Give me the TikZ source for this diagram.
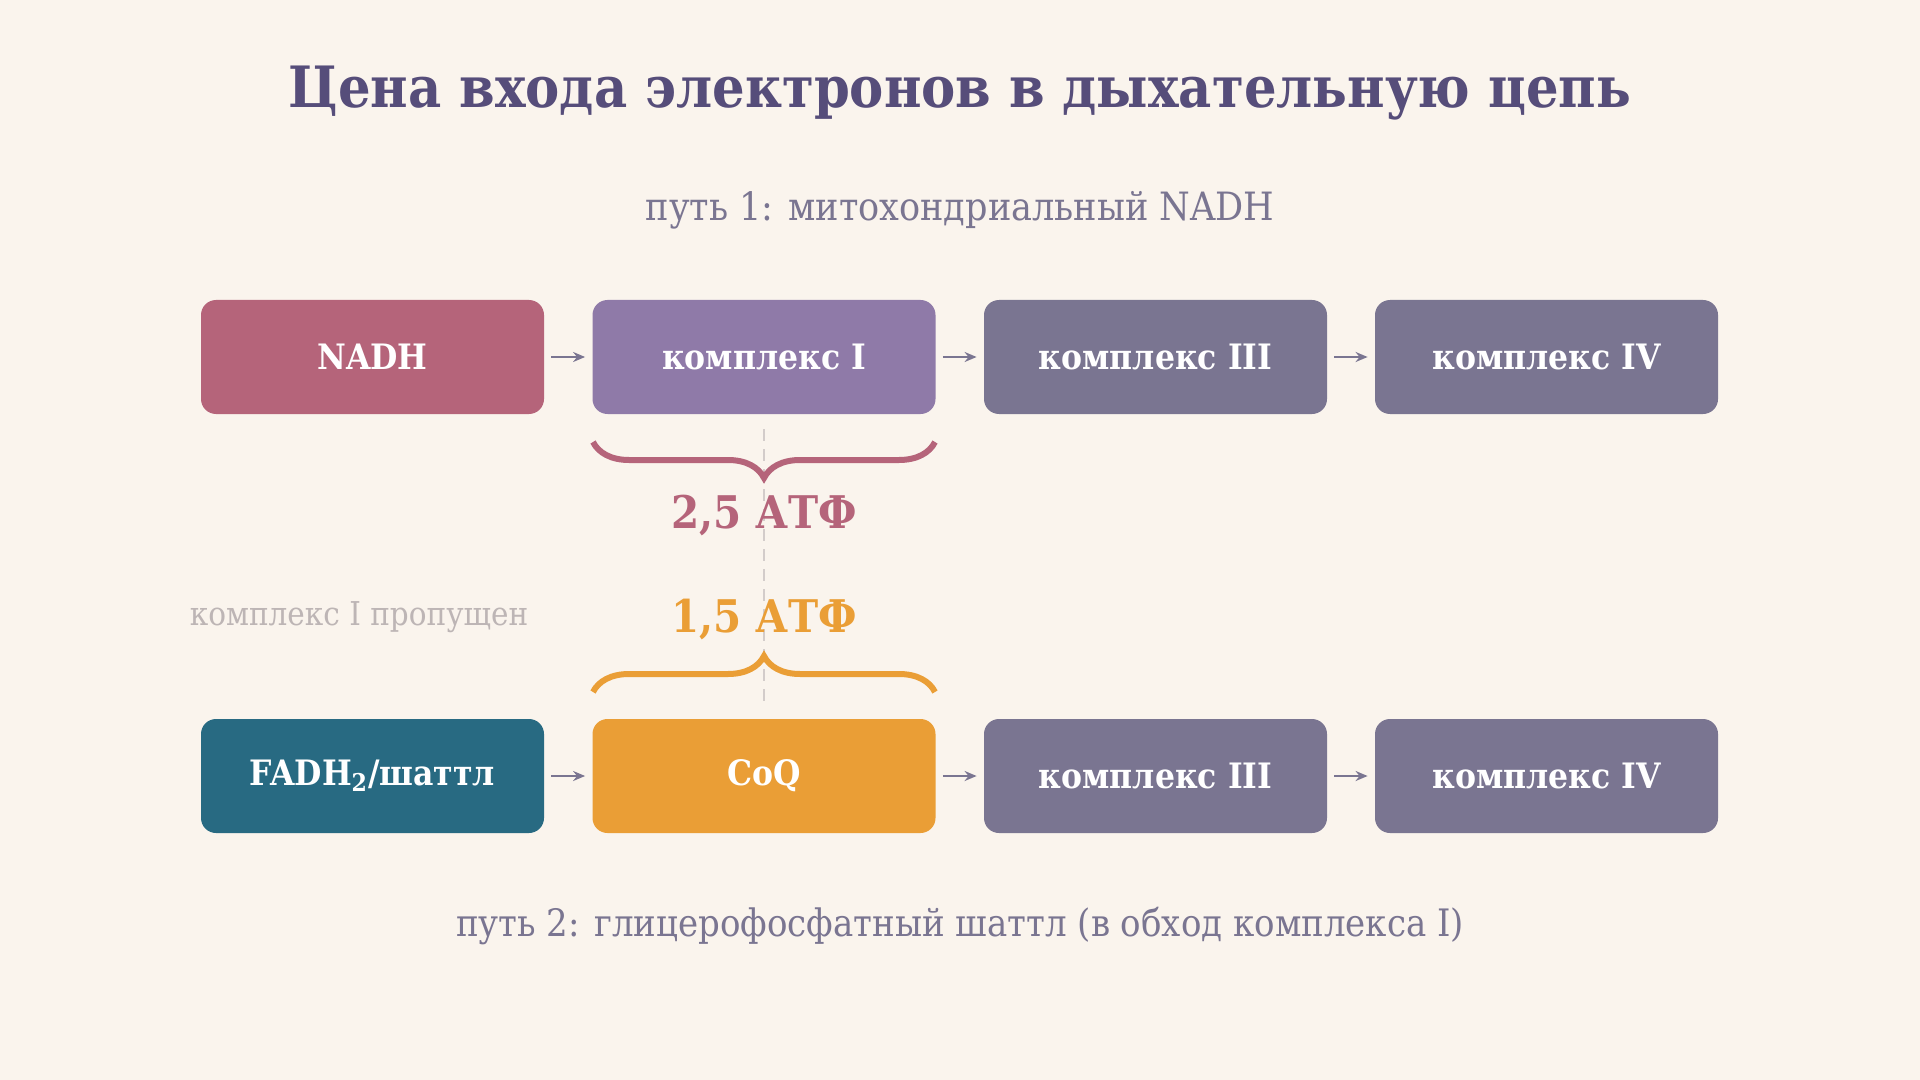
\documentclass[tikz,border=0pt]{standalone}
\usepackage{fontspec}
\setmainfont{DejaVu Serif Condensed}
\usetikzlibrary{arrows.meta,decorations.pathreplacing}
\definecolor{bg}{HTML}{FAF4ED}
\definecolor{titlec}{HTML}{564D7A}
\definecolor{nadhc}{HTML}{B5647A}
\definecolor{cIc}{HTML}{8F7AA8}
\definecolor{cIIIc}{HTML}{7A7591}
\definecolor{fadhc}{HTML}{286A82}
\definecolor{coqc}{HTML}{EA9E36}
\definecolor{grayc}{HTML}{BDB5B5}
\definecolor{dashc}{HTML}{D3CCCA}
\tikzset{
  boxnode/.style={rectangle, rounded corners=7.5pt, minimum width=171.5pt, minimum height=57pt, inner sep=0pt, text=white, font=\fontsize{17.5}{20}\selectfont\bfseries},
  flowarrow/.style={draw=cIIIc, line width=1pt, shorten <=3.5pt, shorten >=3.5pt, -{Stealth[length=6pt,width=5pt]}},
  bracenode/.style={decorate, line width=3pt, decoration={brace, amplitude=18pt}},
}
\begin{document}
\begin{tikzpicture}[x=0.5pt,y=-0.5pt]
\fill[bg] (0,0) rectangle (1920,1080);
\useasboundingbox (0,0) rectangle (1920,1080);
\node[text=titlec, font=\fontsize{28.5}{32}\selectfont\bfseries] (title) at (960,93) {Цена входа электронов в дыхательную цепь};
\node[text=cIIIc, font=\fontsize{19.5}{22}\selectfont] (sub1) at (960,210) {путь 1: митохондриальный NADH};
\node[text=cIIIc, font=\fontsize{18.9}{22}\selectfont] (sub2) at (960,926) {путь 2: глицерофосфатный шаттл (в обход комплекса I)};
% dashed guide
\coordinate (dtop) at (764,429);
\coordinate (dbot) at (764,705);
\draw[dashc, line width=1pt, dash pattern=on 6pt off 4pt] (dtop) -- (dbot);
% row 1
\node[boxnode, fill=nadhc] (nadh) at (372.5,357) {NADH};
\node[boxnode, fill=cIc] (c1) at (764,357) {комплекс I};
\node[boxnode, fill=cIIIc] (c3a) at (1155.5,357) {комплекс III};
\node[boxnode, fill=cIIIc] (c4a) at (1546.5,357) {комплекс IV};
\draw[flowarrow] (nadh) -- (c1);
\draw[flowarrow] (c1) -- (c3a);
\draw[flowarrow] (c3a) -- (c4a);
% row 2
\node[boxnode, fill=fadhc] (fadh) at (372.5,776) {FADH\textsubscript{2}/шаттл};
\node[boxnode, fill=coqc] (coq) at (764,776) {CoQ};
\node[boxnode, fill=cIIIc] (c3b) at (1155.5,776) {комплекс III};
\node[boxnode, fill=cIIIc] (c4b) at (1546.5,776) {комплекс IV};
\draw[flowarrow] (fadh) -- (coq);
\draw[flowarrow] (coq) -- (c3b);
\draw[flowarrow] (c3b) -- (c4b);
% braces
\coordinate (b1l) at (593,442);
\coordinate (b1r) at (935,442);
\coordinate (b2l) at (593,692);
\coordinate (b2r) at (935,692);
\draw[nadhc, bracenode] (b1r) -- (b1l);
\draw[coqc, bracenode] (b2l) -- (b2r);
\node[text=nadhc, font=\fontsize{22.5}{26}\selectfont\bfseries] (atp1) at (764,516) {2,5 АТФ};
\node[text=coqc, font=\fontsize{22.5}{26}\selectfont\bfseries] (atp2) at (764,620) {1,5 АТФ};
\node[text=grayc, font=\fontsize{16.4}{19}\selectfont] (skip) at (359,617) {комплекс I пропущен};
\end{tikzpicture}
\end{document}
